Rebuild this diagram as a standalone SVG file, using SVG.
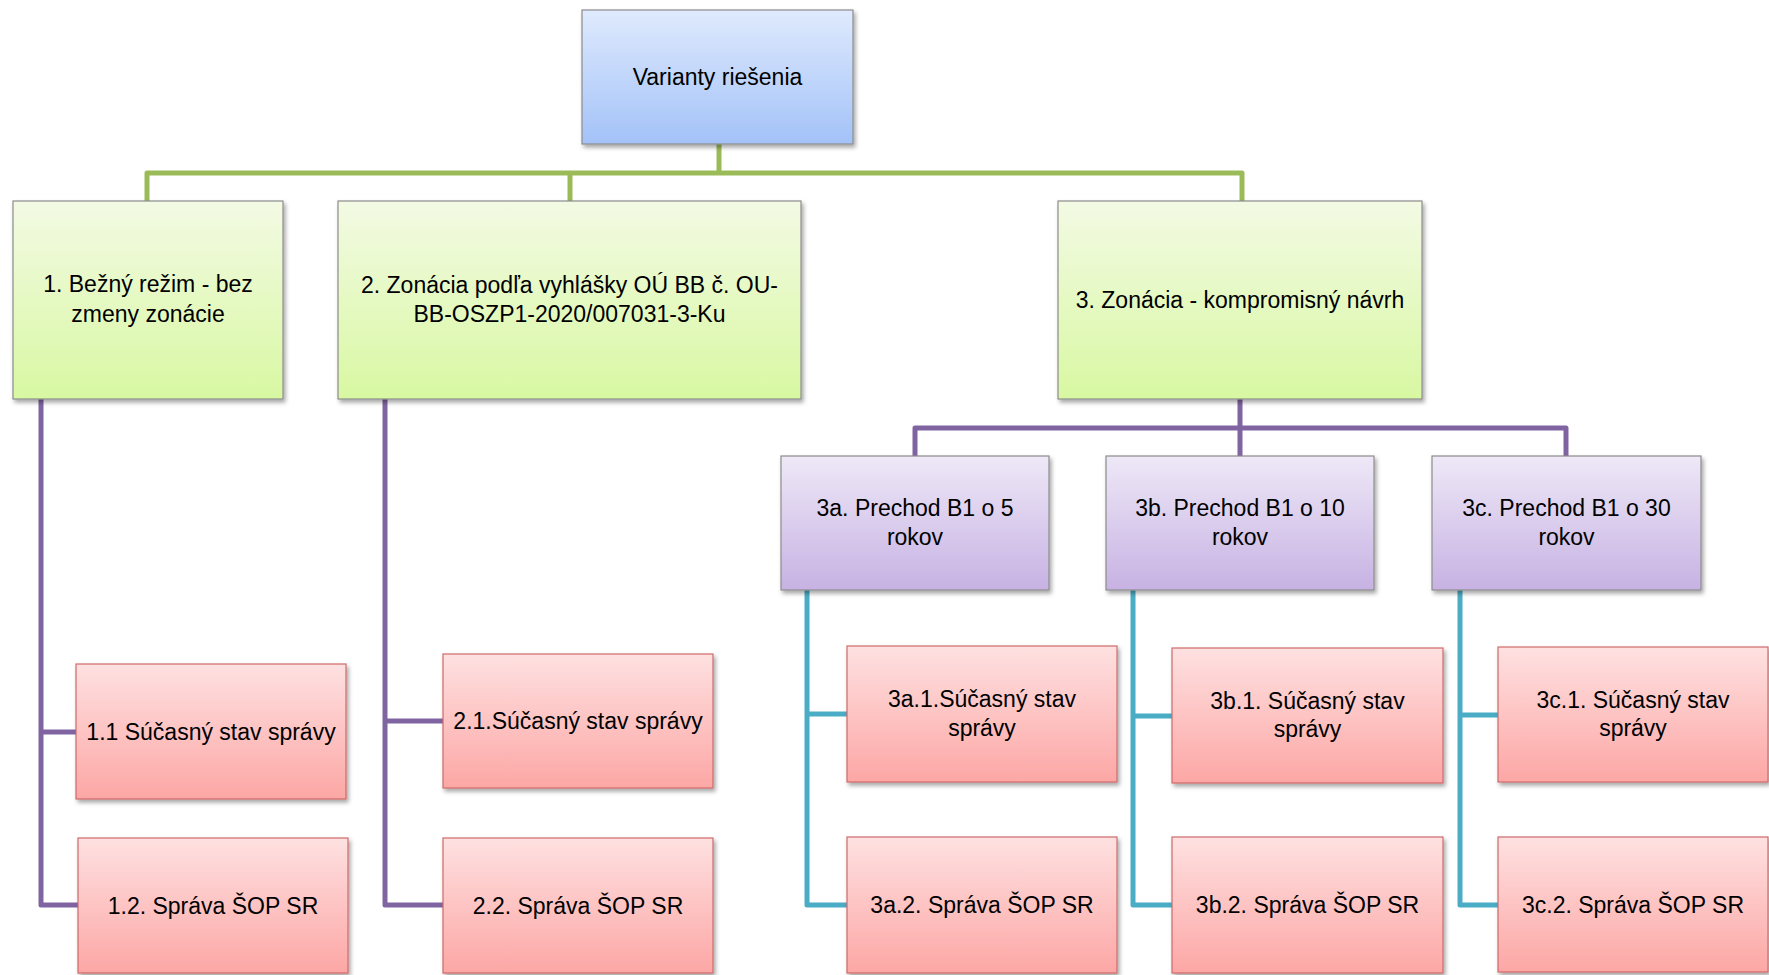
<svg xmlns="http://www.w3.org/2000/svg" width="1769" height="975" viewBox="0 0 1769 975">
<style>
.t{font-family:"Liberation Sans",Arial,sans-serif;font-size:23px;fill:#000;text-anchor:middle}
.box{stroke-width:1.2}
.gb{stroke:#8c8c8c}
.rb{stroke:#cf6a6a}
.ln{fill:none;stroke-width:5;stroke-linejoin:round;stroke-linecap:butt}
.g{stroke:#9bbb59}
.p{stroke:#8064a2}
.c{stroke:#4bacc6}
</style>
<defs>
<linearGradient id="gBlue" x1="0" y1="0" x2="0" y2="1"><stop offset="0" stop-color="#dfeafd"/><stop offset="1" stop-color="#a3c2f8"/></linearGradient>
<linearGradient id="gGreen" x1="0" y1="0" x2="0" y2="1"><stop offset="0" stop-color="#f3fae4"/><stop offset="1" stop-color="#d8f8a2"/></linearGradient>
<linearGradient id="gPurple" x1="0" y1="0" x2="0" y2="1"><stop offset="0" stop-color="#eee8f7"/><stop offset="1" stop-color="#c7b2e3"/></linearGradient>
<linearGradient id="gRed" x1="0" y1="0" x2="0" y2="1"><stop offset="0" stop-color="#fee1e1"/><stop offset="1" stop-color="#fca7a5"/></linearGradient>
<filter id="sh" x="-10%" y="-10%" width="125%" height="130%"><feDropShadow dx="2" dy="3" stdDeviation="2" flood-color="#000" flood-opacity="0.35"/></filter>
</defs>
<rect width="1769" height="975" fill="#fff"/>
<g id="connectors">
<path class="ln g" d="M147,201 V173 H1242 V201 M719,144 V173 M570,173 V201"/>
<path class="ln p" d="M41,399 V905 H78 M41,732 H76"/>
<path class="ln p" d="M385,399 V905 H443 M385,721 H443"/>
<path class="ln p" d="M1240,399 V456 M915,456 V428 H1566 V456"/>
<path class="ln c" d="M807,590 V905 H847 M807,714 H847"/>
<path class="ln c" d="M1133,590 V905 H1172 M1133,716 H1172"/>
<path class="ln c" d="M1460,590 V905 H1498 M1460,715 H1498"/>
</g>
<g id="root"><rect class="box gb" x="582" y="10" width="271" height="134" fill="url(#gBlue)" filter="url(#sh)"/><text class="t" x="717.5" y="85">Varianty riešenia</text></g>
<g id="n1"><rect class="box gb" x="13" y="201" width="270" height="198" fill="url(#gGreen)" filter="url(#sh)"/><text class="t" x="148" y="292">1. Bežný režim - bez</text><text class="t" x="148" y="322">zmeny zonácie</text></g>
<g id="n2"><rect class="box gb" x="338" y="201" width="463" height="198" fill="url(#gGreen)" filter="url(#sh)"/><text class="t" x="569.5" y="293">2. Zonácia podľa vyhlášky OÚ BB č. OU-</text><text class="t" x="569.5" y="322">BB-OSZP1-2020/007031-3-Ku</text></g>
<g id="n3"><rect class="box gb" x="1058" y="201" width="364" height="198" fill="url(#gGreen)" filter="url(#sh)"/><text class="t" x="1240" y="308">3. Zonácia - kompromisný návrh</text></g>
<g id="n3a"><rect class="box gb" x="781" y="456" width="268" height="134" fill="url(#gPurple)" filter="url(#sh)"/><text class="t" x="915" y="516">3a. Prechod B1 o 5</text><text class="t" x="915" y="545">rokov</text></g>
<g id="n3b"><rect class="box gb" x="1106" y="456" width="268" height="134" fill="url(#gPurple)" filter="url(#sh)"/><text class="t" x="1240" y="516">3b. Prechod B1 o 10</text><text class="t" x="1240" y="545">rokov</text></g>
<g id="n3c"><rect class="box gb" x="1432" y="456" width="269" height="134" fill="url(#gPurple)" filter="url(#sh)"/><text class="t" x="1566.5" y="516">3c. Prechod B1 o 30</text><text class="t" x="1566.5" y="545">rokov</text></g>
<g id="n11"><rect class="box rb" x="76" y="664" width="270" height="135" fill="url(#gRed)" filter="url(#sh)"/><text class="t" x="211" y="740">1.1 Súčasný stav správy</text></g>
<g id="n12"><rect class="box rb" x="78" y="838" width="270" height="135" fill="url(#gRed)" filter="url(#sh)"/><text class="t" x="213" y="914">1.2. Správa ŠOP SR</text></g>
<g id="n21"><rect class="box rb" x="443" y="654" width="270" height="134" fill="url(#gRed)" filter="url(#sh)"/><text class="t" x="578" y="729">2.1.Súčasný stav správy</text></g>
<g id="n22"><rect class="box rb" x="443" y="838" width="270" height="135" fill="url(#gRed)" filter="url(#sh)"/><text class="t" x="578" y="914">2.2. Správa ŠOP SR</text></g>
<g id="n3a1"><rect class="box rb" x="847" y="646" width="270" height="136" fill="url(#gRed)" filter="url(#sh)"/><text class="t" x="982" y="707">3a.1.Súčasný stav</text><text class="t" x="982" y="736">správy</text></g>
<g id="n3a2"><rect class="box rb" x="847" y="837" width="270" height="136" fill="url(#gRed)" filter="url(#sh)"/><text class="t" x="982" y="913">3a.2. Správa ŠOP SR</text></g>
<g id="n3b1"><rect class="box rb" x="1172" y="648" width="271" height="135" fill="url(#gRed)" filter="url(#sh)"/><text class="t" x="1307.5" y="709">3b.1. Súčasný stav</text><text class="t" x="1307.5" y="737">správy</text></g>
<g id="n3b2"><rect class="box rb" x="1172" y="837" width="271" height="136" fill="url(#gRed)" filter="url(#sh)"/><text class="t" x="1307.5" y="913">3b.2. Správa ŠOP SR</text></g>
<g id="n3c1"><rect class="box rb" x="1498" y="647" width="270" height="135" fill="url(#gRed)" filter="url(#sh)"/><text class="t" x="1633" y="708">3c.1. Súčasný stav</text><text class="t" x="1633" y="736">správy</text></g>
<g id="n3c2"><rect class="box rb" x="1498" y="837" width="270" height="135" fill="url(#gRed)" filter="url(#sh)"/><text class="t" x="1633" y="913">3c.2. Správa ŠOP SR</text></g>
</svg>
